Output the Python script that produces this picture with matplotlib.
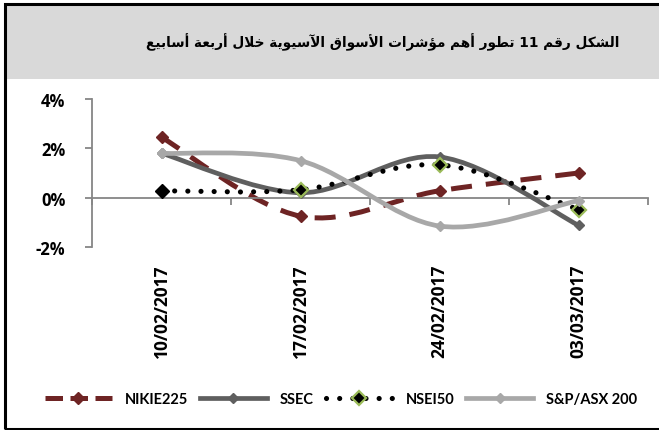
import matplotlib
matplotlib.use("Agg")
import matplotlib.pyplot as plt
from matplotlib.path import Path
from matplotlib.patches import PathPatch, Rectangle
from matplotlib.lines import Line2D
import matplotlib.transforms as mtransforms

# ---------------- data ----------------
dates = ["10/02/2017", "17/02/2017", "24/02/2017", "03/03/2017"]
nikie225 = [2.45, -0.75, 0.28, 1.0]
ssec = [1.8, 0.2, 1.65, -1.12]
nsei50 = [0.28, 0.32, 1.33, -0.48]
asx200 = [1.8, 1.5, -1.15, -0.12]
series_names = ["NIKIE225", "SSEC", "NSEI50", "S&P/ASX 200"]
yticks = [-2, 0, 2, 4]
ytick_labels = ["-2%", "0%", "2%", "4%"]
title = "الشكل رقم 11 تطور أهم مؤشرات الأسواق الآسيوية خلال أربعة أسابيع"

# ------------- simple Arabic shaping (presentation forms) -------------
FORMS = {
    '\u0627': ('\uFE8D', '\uFE8E', None, None),
    '\u0623': ('\uFE83', '\uFE84', None, None),
    '\u0622': ('\uFE81', '\uFE82', None, None),
    '\u0628': ('\uFE8F', '\uFE90', '\uFE91', '\uFE92'),
    '\u0629': ('\uFE93', '\uFE94', None, None),
    '\u062A': ('\uFE95', '\uFE96', '\uFE97', '\uFE98'),
    '\u062E': ('\uFEA5', '\uFEA6', '\uFEA7', '\uFEA8'),
    '\u0631': ('\uFEAD', '\uFEAE', None, None),
    '\u0633': ('\uFEB1', '\uFEB2', '\uFEB3', '\uFEB4'),
    '\u0634': ('\uFEB5', '\uFEB6', '\uFEB7', '\uFEB8'),
    '\u0637': ('\uFEC1', '\uFEC2', '\uFEC3', '\uFEC4'),
    '\u0639': ('\uFEC9', '\uFECA', '\uFECB', '\uFECC'),
    '\u0642': ('\uFED5', '\uFED6', '\uFED7', '\uFED8'),
    '\u0643': ('\uFED9', '\uFEDA', '\uFEDB', '\uFEDC'),
    '\u0644': ('\uFEDD', '\uFEDE', '\uFEDF', '\uFEE0'),
    '\u0645': ('\uFEE1', '\uFEE2', '\uFEE3', '\uFEE4'),
    '\u0647': ('\uFEE9', '\uFEEA', '\uFEEB', '\uFEEC'),
    '\u0648': ('\uFEED', '\uFEEE', None, None),
    '\u0624': ('\uFE85', '\uFE86', None, None),
    '\u064A': ('\uFEF1', '\uFEF2', '\uFEF3', '\uFEF4'),
}
LAMALEF = {'\u0622': ('\uFEF5', '\uFEF6'),
           '\u0623': ('\uFEF7', '\uFEF8'),
           '\u0627': ('\uFEFB', '\uFEFC')}


def shape_arabic(text):
    out = []
    i = 0
    n = len(text)
    prev_joins = False
    while i < n:
        c = text[i]
        if c not in FORMS:
            out.append(c)
            prev_joins = False
            i += 1
            continue
        if c == '\u0644' and i + 1 < n and text[i + 1] in LAMALEF:
            iso, fin = LAMALEF[text[i + 1]]
            out.append(fin if prev_joins else iso)
            prev_joins = False
            i += 2
            continue
        f = FORMS[c]
        nxt = text[i + 1] if i + 1 < n else ''
        dual = f[2] is not None
        next_joins = dual and nxt in FORMS
        if prev_joins and next_joins:
            g = f[3]
        elif prev_joins:
            g = f[1]
        elif next_joins:
            g = f[2]
        else:
            g = f[0]
        out.append(g)
        prev_joins = dual
        i += 1
    return ''.join(reversed(out))


def smooth_path(xs, ys):
    """Excel-like smoothed line: cubic Bezier through the data points."""
    pts = list(zip(xs, ys))
    n = len(pts)
    verts = [pts[0]]
    codes = [Path.MOVETO]
    for i in range(n - 1):
        p0 = pts[i - 1] if i > 0 else pts[i]
        p1 = pts[i]
        p2 = pts[i + 1]
        p3 = pts[i + 2] if i + 2 < n else pts[i + 1]
        c1 = (p1[0] + (p2[0] - p0[0]) / 6.0, p1[1] + (p2[1] - p0[1]) / 6.0)
        c2 = (p2[0] - (p3[0] - p1[0]) / 6.0, p2[1] - (p3[1] - p1[1]) / 6.0)
        verts += [c1, c2, p2]
        codes += [Path.CURVE4] * 3
    return Path(verts, codes)


W, H = 659, 431
fig = plt.figure(figsize=(W / 100, H / 100), dpi=100)
fig.patch.set_facecolor("white")

# title band and frame
fig.patches.append(Rectangle((5 / W, 1 - 80 / H), 1 - 5 / W, (80 - 5) / H,
                             transform=fig.transFigure, facecolor="#d9d9d9",
                             edgecolor="none", zorder=0))
fig.patches.append(Rectangle((4.5 / W, 1.5 / H), 1.05, 1 - 6.5 / H,
                             transform=fig.transFigure, facecolor="none",
                             edgecolor="black", linewidth=2.2, zorder=1))

fig.text(383 / W, 1 - 42 / H, shape_arabic(title), ha="center", va="center",
         fontsize=9.8, fontweight="bold", family=["DejaVu Sans"], color="black")

ax = fig.add_axes([92 / W, 1 - 248 / H, (648 - 92) / W, (248 - 100) / H])
ax.set_facecolor("none")
x = list(range(len(dates)))
ax.set_xlim(-0.5, len(dates) - 0.5)
ax.set_ylim(-2, 4)

axis_col = "#868686"
for s in ["top", "right"]:
    ax.spines[s].set_visible(False)
ax.spines["left"].set_color(axis_col)
ax.spines["left"].set_linewidth(1.3)
ax.spines["bottom"].set_position(("data", 0))
ax.spines["bottom"].set_color(axis_col)
ax.spines["bottom"].set_linewidth(1.3)

ax.set_yticks(yticks)
ax.set_yticklabels(ytick_labels, fontsize=12, fontweight="bold", family="Open Sans")
ax.tick_params(axis="y", direction="out", length=5, width=1.3, color=axis_col, pad=14)
ax.set_xticks([i - 0.5 for i in range(len(dates) + 1)])
ax.set_xticklabels([])
ax.tick_params(axis="x", direction="out", length=5, width=1.3, color=axis_col)

blend = mtransforms.blended_transform_factory(ax.transData, ax.transAxes)
for i, d in enumerate(dates):
    ax.text(i, -0.11, d, transform=blend, rotation=90, ha="center", va="top",
            fontsize=12.5, fontweight="bold", family="Open Sans")

c_nik = "#6e2424"
c_ssec = "#5f5f5f"
c_nsei = "black"
c_asx = "#a8a8a8"
green = "#9bbb59"

# NIKIE225
ax.add_patch(PathPatch(smooth_path(x, nikie225), fill=False, edgecolor=c_nik,
                       linewidth=3.6, linestyle=(0, (4.2, 2.8)), capstyle="butt", zorder=2))
ax.plot(x, nikie225, linestyle="none", marker="D", ms=6.5, color=c_nik, zorder=2.1,
        clip_on=False)
# SSEC
ax.add_patch(PathPatch(smooth_path(x, ssec), fill=False, edgecolor=c_ssec,
                       linewidth=3.4, capstyle="butt", zorder=3))
ax.plot(x, ssec, linestyle="none", marker="D", ms=5, color=c_ssec, zorder=3.1, clip_on=False)
# NSEI50
ax.add_patch(PathPatch(smooth_path(x, nsei50), fill=False, edgecolor=c_nsei,
                       linewidth=3.7, linestyle=(0, (0.01, 2.55)), capstyle="round", zorder=4))
ax.plot(x[:1], nsei50[:1], linestyle="none", marker="D", ms=7, color="black",
        zorder=4.1, clip_on=False)
ax.plot(x[1:], nsei50[1:], linestyle="none", marker="D", ms=7, markerfacecolor="black",
        markeredgecolor=green, markeredgewidth=1.6, zorder=4.1, clip_on=False)
# S&P/ASX 200
ax.add_patch(PathPatch(smooth_path(x, asx200), fill=False, edgecolor=c_asx,
                       linewidth=3.4, capstyle="butt", zorder=5))
ax.plot(x, asx200, linestyle="none", marker="D", ms=5, color=c_asx, zorder=5.1, clip_on=False)

handles = [
    Line2D([], [], color=c_nik, lw=3.6, linestyle=(0, (3.5, 1.5)), marker="D", ms=6.5),
    Line2D([], [], color=c_ssec, lw=3.4, marker="D", ms=5),
    Line2D([], [], color=c_nsei, lw=3.7, linestyle=(0, (0.01, 2.55)),
           dash_capstyle="round", marker="D", ms=7, markerfacecolor="black",
           markeredgecolor=green, markeredgewidth=1.6),
    Line2D([], [], color=c_asx, lw=3.4, marker="D", ms=5),
]
leg = fig.legend(handles, series_names, loc="center", bbox_to_anchor=(341 / W, 1 - 400 / H),
                 ncol=4, frameon=False, handlelength=4.6, handletextpad=0.9,
                 columnspacing=0.8, numpoints=1,
                 prop={"family": ["Lato"], "weight": "bold", "size": 10.5})

fig.savefig("out.png", dpi=100)
